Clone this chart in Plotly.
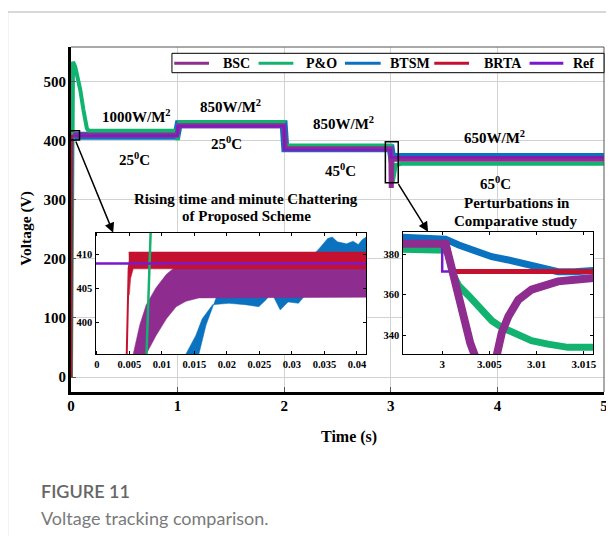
import plotly.graph_objects as go

# ---------------- data ----------------
series_names = ["BSC", "P&O", "BTSM", "BRTA", "Ref"]
series_colors = ["#8E2C90", "#12B36E", "#0B72C0", "#C3112F", "#7A18CF"]
COL = dict(zip(series_names, series_colors))

# main panel: time (s) / voltage (V)
bsc_t = [0, 0.0056, 0.0091, 0.0122, 0.02, 0.99, 1.0, 1.01, 1.995, 2.0, 2.01, 2.999, 3.0004, 3.0023, 3.0044, 3.007, 3.0123, 3.02, 5.0]
bsc_v = [0, 395.3, 405.1, 408.3, 409.2, 409.2, 415, 425.5, 425.5, 400, 386.4, 386.4, 385.2, 344, 320, 349, 366.6, 368.8, 368.8]

btsm_t = [0, 0.0137, 0.0157, 0.0183, 0.02, 0.04, 0.99, 1.0, 1.01, 1.995, 2.0, 2.01, 2.999, 3.0004, 3.005, 3.0105, 3.0123, 3.03, 5.0]
btsm_v = [0, 395.3, 398, 403.5, 405, 408.4, 408.4, 415, 427.8, 427.8, 400, 387.5, 387.5, 387.5, 378.8, 373, 371.4, 372.5, 372.5]

po_t = [0, 0.0076, 0.019, 0.04, 0.087, 0.117, 0.149, 0.164, 0.99, 1.0, 1.003, 1.02, 1.995, 2.0, 2.01, 2.999, 3.0005, 3.005, 3.0133, 3.022, 3.035, 3.047, 3.1, 5.0]
po_v = [0, 395.3, 534, 525, 486, 452, 421, 417, 417, 401, 425, 432, 432, 400, 392, 392, 382, 347, 334, 333.6, 345, 359, 361, 361]

brta_t = [0, 0.0046, 0.0053, 0.99, 1.0, 1.01, 1.995, 2.0, 2.01, 2.999, 3.0005, 3.0011, 5.0]
brta_v = [0, 395.3, 409.2, 409.2, 415, 425, 425, 400, 385.5, 385.5, 384.8, 371.5, 371.5]

ref_t = [0, 1.0, 1.0, 2.0, 2.0, 3.0, 3.0, 5.0]
ref_v = [408.7, 408.7, 424.5, 424.5, 385, 385, 371.5, 371.5]

main_xticks = [0, 1, 2, 3, 4, 5]
main_yticks = [0, 100, 200, 300, 400, 500]

# inset 1 (start-up, 0 .. 0.041 s)
in1_ref_t = [-0.0002, 0.0414]
in1_ref_v = [408.7, 408.7]
in1_brta_edge_t = [0.0046, 0.0049, 0.0053]
in1_brta_edge_v = [395.3, 408.0, 410.3]
in1_brta_up_t = [0.0049, 0.0414]
in1_brta_up_v = [410.4, 410.4]
in1_brta_lo_t = [0.0050, 0.0052, 0.0056, 0.0414]
in1_brta_lo_v = [404.0, 406.5, 407.9, 407.9]
in1_bsc_up_t = [0.0056, 0.0066, 0.0076, 0.0091, 0.0107, 0.0122, 0.015, 0.0414]
in1_bsc_up_v = [395.3, 399.6, 402.6, 405.1, 407.1, 408.3, 409.3, 409.5]
in1_bsc_lo_t = [0.0076, 0.0091, 0.0107, 0.0122, 0.0137, 0.0157, 0.0193, 0.0414]
in1_bsc_lo_v = [395.3, 398.0, 400.5, 402.3, 403.1, 403.6, 403.7, 403.7]
in1_btsm_up_t = [0.0157, 0.0168, 0.0183, 0.02, 0.025, 0.031, 0.033, 0.034, 0.0355, 0.0362, 0.037, 0.0384, 0.0394, 0.0402, 0.0408, 0.0414]
in1_btsm_up_v = [395.3, 399.6, 403.5, 406, 408, 409, 409.8, 410.7, 412.4, 412.6, 411.9, 411.6, 412, 411.5, 412.2, 412.6]
in1_btsm_lo_t = [0.0137, 0.0152, 0.0162, 0.0178, 0.0203, 0.0228, 0.0249, 0.0259, 0.0269, 0.0282, 0.0294, 0.031, 0.0325, 0.034, 0.0414]
in1_btsm_lo_v = [395.3, 398, 400.5, 402.6, 402.8, 402.6, 402.3, 403.2, 404.3, 401.8, 403, 402.8, 404.5, 405, 405.5]
in1_po_t = [0.0076, 0.0083]
in1_po_v = [394, 414]
in1_xticks = [0, 0.005, 0.01, 0.015, 0.02, 0.025, 0.03, 0.035, 0.04]
in1_xlabels = ["0", "0.005", "0.01", "0.015", "0.02", "0.025", "0.03", "0.035", "0.04"]
in1_yticks = [400, 405, 410]

# inset 2 (perturbation at 3 s)
in2_btsm_t = [2.9958, 3.00035, 3.00175, 3.0035, 3.00525, 3.007, 3.00875, 3.0105, 3.01226, 3.014, 3.0160]
in2_btsm_v = [388.5, 387.5, 384.6, 381.6, 378.8, 377.2, 375.5, 373, 371.4, 371.4, 372]
in2_po_t = [2.9958, 3.0005, 3.00123, 3.00175, 3.0028, 3.0042, 3.00525, 3.0063, 3.0077, 3.00945, 3.0112, 3.0133, 3.0160]
in2_po_v = [382.5, 382, 369, 364.5, 359.5, 353, 347.1, 343.8, 340.5, 337.2, 335.5, 333.9, 333.9]
in2_bsc_t = [2.9958, 3.00035, 3.00087, 3.0014, 3.00192, 3.00245, 3.00297, 3.00343, 3.0046, 3.00578, 3.0063, 3.007, 3.00806, 3.00945, 3.01085, 3.01226, 3.014, 3.0160]
in2_bsc_v = [385.2, 385.2, 375.7, 365.8, 354.2, 344.3, 336, 330.2, 320, 330.2, 341, 349.2, 357.5, 362.5, 365, 366.6, 367.4, 368.3]
in2_brta_t = [2.9958, 3.00053, 3.00105, 3.0160]
in2_brta_v = [385, 384.8, 371.5, 371.5]
in2_ref_t = [2.9958, 3.0, 3.0, 3.0160]
in2_ref_v = [385, 385, 371.5, 371.5]
in2_xticks = [3, 3.005, 3.01, 3.015]
in2_xlabels = ["3", "3.005", "3.01", "3.015"]
in2_yticks = [340, 360, 380]

# ---------------- geometry helpers (reference-picture pixels) ----------------
OFF = 8                      # page body margin of the browser
W, H = 614 - OFF, 536 - OFF  # figure size
L, R, T, B = 71, 608, 47, 392


def pxx(x):
    return (x - L) / (R - L)


def pxy(y):
    return (B - y) / (B - T)


SERIF = "Liberation Serif"
fig = go.Figure()


def add_line(name, xs, ys, width, xa="x", ya="y"):
    fig.add_trace(go.Scatter(x=list(xs), y=list(ys), mode="lines", name=name,
                             line=dict(color=COL[name], width=width),
                             xaxis=xa, yaxis=ya, showlegend=False, hoverinfo="skip"))


def add_band(name, xu, yu, xl, yl, xa, ya):
    fig.add_trace(go.Scatter(x=list(xu) + list(xl)[::-1], y=list(yu) + list(yl)[::-1],
                             mode="lines", fill="toself", fillcolor=COL[name], name=name,
                             line=dict(color=COL[name], width=0.5),
                             xaxis=xa, yaxis=ya, showlegend=False, hoverinfo="skip"))


def split(t, v, ts):
    rise = [(a, b) for a, b in zip(t, v) if a <= ts]
    flat = [(a, b) for a, b in zip(t, v) if a >= ts]
    return list(zip(*rise)), list(zip(*flat))


bsc_rise, bsc_flat = split(bsc_t, bsc_v, 0.02)
btsm_rise, btsm_flat = split(btsm_t, btsm_v, 0.02)
brta_rise, brta_flat = split(brta_t, brta_v, 0.0053)

# main panel traces
add_line("BTSM", *btsm_flat, 8)
add_line("BRTA", *brta_flat, 3)
add_line("P&O", po_t, po_v, 4)
add_line("BSC", *bsc_flat, 5)
add_line("Ref", ref_t, ref_v, 2)
add_line("BSC", *bsc_rise, 1.5)
add_line("BTSM", *btsm_rise, 1.5)
add_line("BRTA", *brta_rise, 3)

# inset 1
add_band("BTSM", in1_btsm_up_t, in1_btsm_up_v, in1_btsm_lo_t, in1_btsm_lo_v, "x2", "y2")
add_band("BSC", in1_bsc_up_t, in1_bsc_up_v, in1_bsc_lo_t, in1_bsc_lo_v, "x2", "y2")
add_band("BRTA", in1_brta_up_t, in1_brta_up_v, in1_brta_lo_t, in1_brta_lo_v, "x2", "y2")
add_line("BRTA", in1_brta_edge_t, in1_brta_edge_v, 2, "x2", "y2")
add_line("P&O", in1_po_t, in1_po_v, 2.5, "x2", "y2")
add_line("Ref", in1_ref_t, in1_ref_v, 2.5, "x2", "y2")

# inset 2
add_line("BTSM", in2_btsm_t, in2_btsm_v, 7, "x3", "y3")
add_line("P&O", in2_po_t, in2_po_v, 7, "x3", "y3")
add_line("Ref", in2_ref_t, in2_ref_v, 2.5, "x3", "y3")
add_line("BRTA", in2_brta_t, in2_brta_v, 5, "x3", "y3")
add_line("BSC", in2_bsc_t, in2_bsc_v, 8, "x3", "y3")

tickfont_main = dict(family=SERIF, size=15, color="black", weight="bold")
tickfont_in = dict(family=SERIF, size=10.5, color="black", weight="bold")

fig.update_layout(
    width=W, height=H, autosize=False,
    margin=dict(l=L - OFF, r=W - (R - OFF), t=T - OFF, b=H - (B - OFF), pad=0),
    paper_bgcolor="white", plot_bgcolor="white",
    showlegend=False,
    xaxis=dict(domain=[0, 1], range=[0, 5], tickvals=main_xticks, showgrid=True,
               gridcolor="#d2d2d2", gridwidth=1, zeroline=False, showline=True,
               linecolor="black", linewidth=3, ticks="inside", ticklen=5,
               tickcolor="#555", tickfont=tickfont_main, anchor="y",
               ticklabelstandoff=-2),
    yaxis=dict(domain=[0, 1], range=[-25.4, 558.8], tickvals=main_yticks, showgrid=True,
               gridcolor="#d2d2d2", gridwidth=1, zeroline=False, showline=True,
               linecolor="black", linewidth=3, ticks="inside", ticklen=5,
               tickcolor="#555", tickfont=tickfont_main, anchor="x",
               ticklabelstandoff=-1),
    xaxis2=dict(domain=[pxx(95.7), pxx(368.3)], range=[-0.0002, 0.0414], anchor="y2",
                tickvals=in1_xticks, ticktext=in1_xlabels, showgrid=False, zeroline=False,
                showline=True, mirror="ticks", linecolor="black", linewidth=1.2,
                ticks="inside", ticklen=3, tickcolor="black", tickfont=tickfont_in),
    yaxis2=dict(domain=[pxy(354), pxy(232.7)], range=[395.3, 413.25], anchor="x2",
                tickvals=in1_yticks, showgrid=False, zeroline=False,
                showline=True, mirror="ticks", linecolor="black", linewidth=1.2,
                ticks="inside", ticklen=3, tickcolor="black", tickfont=tickfont_in),
    xaxis3=dict(domain=[pxx(405), pxx(597.3)], range=[2.9958, 3.0160], anchor="y3",
                tickvals=in2_xticks, ticktext=in2_xlabels, showgrid=False, zeroline=False,
                showline=True, mirror="ticks", linecolor="black", linewidth=1.2,
                ticks="inside", ticklen=3, tickcolor="black",
                tickfont=dict(family=SERIF, size=11, color="black", weight="bold")),
    yaxis3=dict(domain=[pxy(354), pxy(231.7)], range=[330.6, 391.2], anchor="x3",
                tickvals=in2_yticks, showgrid=False, zeroline=False,
                showline=True, mirror="ticks", linecolor="black", linewidth=1.2,
                ticks="inside", ticklen=3, tickcolor="black", tickfont=tickfont_in),
)

shapes = []
# thin top / right frame of main axes
shapes.append(dict(type="line", xref="paper", yref="paper", x0=0, x1=1, y0=1, y1=1,
                   line=dict(color="#555", width=1)))
shapes.append(dict(type="line", xref="paper", yref="paper", x0=1, x1=1, y0=0, y1=1,
                   line=dict(color="#555", width=1)))
# zoom rectangles
shapes.append(dict(type="rect", xref="x", yref="y", x0=-0.006, x1=0.08, y0=401.3, y1=417,
                   line=dict(color="black", width=1.5)))
shapes.append(dict(type="rect", xref="x", yref="y", x0=2.949, x1=3.07, y0=329, y1=398.4,
                   line=dict(color="black", width=1.5)))
# outer card frame
shapes.append(dict(type="rect", xref="paper", yref="paper", x0=pxx(7), x1=pxx(660),
                   y0=pxy(620), y1=pxy(12), line=dict(color="#cccccc", width=1.5)))

# manual legend
legend_box = (172.7, 608, 53.3, 72.7)
legend_items = [("BSC", 175, 210, 237.5), ("P&O", 260, 295, 323.5), ("BTSM", 347, 383, 412.5),
                ("BRTA", 437, 472, 506), ("Ref", 533, 567, 587.5)]
shapes.append(dict(type="rect", xref="paper", yref="paper", x0=pxx(legend_box[0]),
                   x1=pxx(legend_box[1]), y0=pxy(legend_box[3]), y1=pxy(legend_box[2]),
                   fillcolor="white", line=dict(color="black", width=1)))
annotations = []
for name, lx0, lx1, tx in legend_items:
    shapes.append(dict(type="line", xref="paper", yref="paper", x0=pxx(lx0), x1=pxx(lx1),
                       y0=pxy(63.3), y1=pxy(63.3), line=dict(color=COL[name], width=3)))
    annotations.append(dict(xref="paper", yref="paper", x=pxx(tx), y=pxy(63.3), text=name,
                            showarrow=False, xanchor="center", yanchor="middle",
                            font=dict(family=SERIF, size=14, color="black", weight="bold")))

afont = dict(family=SERIF, size=15, color="black", weight="bold")
labels = [
    ("1000W/M<sup>2</sup>", 0.614, 442),
    ("25<sup>0</sup>C", 0.598, 370),
    ("850W/M<sup>2</sup>", 1.50, 459),
    ("25<sup>0</sup>C", 1.463, 397),
    ("850W/M<sup>2</sup>", 2.56, 429.5),
    ("45<sup>0</sup>C", 2.53, 350.5),
    ("650W/M<sup>2</sup>", 3.97, 407),
    ("65<sup>0</sup>C", 3.985, 328.5),
    ("Rising time and minute Chattering", 1.645, 301.7),
    ("of Proposed Scheme", 1.645, 272),
    ("Perturbations in", 4.18, 294.6),
    ("Comparative study", 4.17, 264),
]
for txt, x, y in labels:
    annotations.append(dict(xref="x", yref="y", x=x, y=y, text=txt, showarrow=False,
                            xanchor="center", yanchor="middle", font=afont))

# arrows from zoom boxes to insets
for (tx, ty, hx, hy) in [(0.04, 401.3, 0.396, 244.3), (3.063, 329, 3.35, 246)]:
    annotations.append(dict(xref="x", yref="y", axref="x", ayref="y", x=hx, y=hy, ax=tx, ay=ty,
                            text="", showarrow=True, arrowhead=2, arrowsize=1.3,
                            arrowwidth=1.5, arrowcolor="black", standoff=0))

# axis titles
annotations.append(dict(xref="paper", yref="paper", x=pxx(350.7), y=pxy(437), text="Time (s)",
                        showarrow=False, xanchor="center", yanchor="middle",
                        font=dict(family=SERIF, size=16, color="black", weight="bold")))
annotations.append(dict(xref="paper", yref="paper", x=pxx(25), y=pxy(228.5), text="Voltage (V)",
                        showarrow=False, xanchor="center", yanchor="middle", textangle=-90,
                        font=dict(family=SERIF, size=15.5, color="black", weight="bold")))
# caption
annotations.append(dict(xref="paper", yref="paper", x=pxx(39), y=pxy(490.5), text="FIGURE 11",
                        showarrow=False, xanchor="left", yanchor="middle",
                        font=dict(family="Lato", size=18, color="#666666", weight=600)))
annotations.append(dict(xref="paper", yref="paper", x=pxx(39), y=pxy(517.5),
                        text="Voltage tracking comparison.",
                        showarrow=False, xanchor="left", yanchor="middle",
                        font=dict(family="Lato", size=18, color="#7a7a7a")))

fig.update_layout(shapes=shapes, annotations=annotations)
fig.write_html("out.html")
